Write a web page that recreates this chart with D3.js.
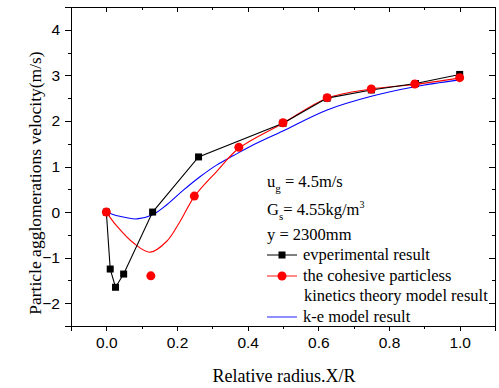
<!DOCTYPE html>
<meta charset="utf-8">
<style>
    body { margin: 0; background: #fff; }
    .axis path, .axis line { stroke: #000; stroke-width: 1px; shape-rendering: crispEdges; }
    .axis text { font: 15.5px "Liberation Sans", Arial, sans-serif; fill: #000; }
    .title { font-family: "Liberation Serif", "Times New Roman", serif; font-size: 18px; fill: #000; }
    .legend { font-family: "Liberation Serif", "Times New Roman", serif; font-size: 16.5px; fill: #000; }
</style>
<body>
<svg width="499" height="388"></svg>
<script src="https://d3js.org/d3.v7.min.js"></script>
<script>
// experimental result (black squares)
var expX = [0, 0.011, 0.026, 0.049, 0.131, 0.261, 0.5, 0.625, 0.75, 0.875, 1.0];
var expY = [0, -1.25, -1.65, -1.36, 0, 1.21, 1.95, 2.5, 2.68, 2.82, 3.02];
// cohesive particle kinetics theory model (red circles)
var cohX = [0, 0.126, 0.249, 0.375, 0.5, 0.625, 0.75, 0.873, 1.0];
var cohY = [0, -1.4, 0.35, 1.42, 1.96, 2.51, 2.7, 2.81, 2.95];
// red curve
var cohLineX = [0, 0.03, 0.077, 0.124, 0.171, 0.209, 0.249, 0.312, 0.375, 0.5, 0.625, 0.75, 0.873, 1.0];
var cohLineY = [0, -0.31, -0.68, -0.88, -0.64, -0.2, 0.34, 0.89, 1.4, 1.95, 2.5, 2.7, 2.8, 2.94];
// k-e model (blue curve)
var keX = [0, 0.03, 0.087, 0.131, 0.171, 0.218, 0.266, 0.312, 0.36, 0.407, 0.5, 0.625, 0.75, 0.873, 1.0];
var keY = [0, -0.08, -0.15, -0.06, 0.16, 0.48, 0.78, 1.03, 1.24, 1.44, 1.78, 2.24, 2.54, 2.75, 2.9];

var xTicks = [0, 0.2, 0.4, 0.6, 0.8, 1.0];
var yTicks = [-2, -1, 0, 1, 2, 3, 4];

var svg = d3.select("svg"),
    margin = {top: 7, right: 4, bottom: 62, left: 71},
    width = +svg.attr("width") - margin.left - margin.right,
    height = +svg.attr("height") - margin.top - margin.bottom;

var x = d3.scaleLinear().domain([-0.1, 1.1]).range([0, width]),
    y = d3.scaleLinear().domain([-2.5, 4.5]).range([height, 0]);

var g = svg.append("g")
    .attr("transform", "translate(" + margin.left + "," + margin.top + ")");

var xMinor = d3.range(-0.1, 1.11, 0.1).map(function (d) { return +d.toFixed(1); })
    .filter(function (d) { return xTicks.indexOf(d) < 0; });
var yMinor = d3.range(-2.5, 4.51, 0.5).filter(function (d) { return yTicks.indexOf(d) < 0; });

// bottom axis
g.append("g").attr("class", "axis")
    .attr("transform", "translate(0," + height + ")")
    .call(d3.axisBottom(x).tickValues(xTicks).tickSize(5).tickPadding(6).tickFormat(d3.format(".1f")));
g.append("g").attr("class", "axis")
    .attr("transform", "translate(0," + height + ")")
    .call(d3.axisBottom(x).tickValues(xMinor).tickSize(3).tickFormat(""))
    .select(".domain").remove();
// left axis
g.append("g").attr("class", "axis")
    .call(d3.axisLeft(y).tickValues(yTicks).tickSize(6).tickPadding(5).tickFormat(d3.format("d")));
g.append("g").attr("class", "axis")
    .call(d3.axisLeft(y).tickValues(yMinor).tickSize(3).tickFormat(""))
    .select(".domain").remove();
// top axis, ticks inward
g.append("g").attr("class", "axis")
    .call(d3.axisTop(x).tickValues(xTicks).tickSize(-5).tickFormat(""));
g.append("g").attr("class", "axis")
    .call(d3.axisTop(x).tickValues(xMinor).tickSize(-3).tickFormat(""))
    .select(".domain").remove();
// right axis, ticks inward
g.append("g").attr("class", "axis")
    .attr("transform", "translate(" + width + ",0)")
    .call(d3.axisRight(y).tickValues(yTicks).tickSize(-6).tickFormat(""));
g.append("g").attr("class", "axis")
    .attr("transform", "translate(" + width + ",0)")
    .call(d3.axisRight(y).tickValues(yMinor).tickSize(-3).tickFormat(""))
    .select(".domain").remove();

// axis titles
svg.append("text").attr("class", "title")
    .attr("x", 284).attr("y", 382)
    .attr("text-anchor", "middle")
    .text("Relative radius.X/R");
svg.append("text").attr("class", "title")
    .attr("transform", "translate(41,183) rotate(-90)")
    .attr("text-anchor", "middle")
    .style("font-size", "17.5px")
    .text("Particle agglomerations velocity(m/s)");

function zip(xs, ys) { return xs.map(function (d, i) { return [d, ys[i]]; }); }

var straight = d3.line().x(function (d) { return x(d[0]); }).y(function (d) { return y(d[1]); });
var smooth = d3.line().curve(d3.curveCatmullRom.alpha(0.5))
    .x(function (d) { return x(d[0]); }).y(function (d) { return y(d[1]); });

// blue k-e curve
g.append("path").datum(zip(keX, keY))
    .attr("d", smooth).attr("fill", "none").attr("stroke", "#0000ff").attr("stroke-width", 1.1);
// red model curve
g.append("path").datum(zip(cohLineX, cohLineY))
    .attr("d", smooth).attr("fill", "none").attr("stroke", "#ff0000").attr("stroke-width", 1.1);
// experimental line + squares
var expData = zip(expX, expY);
g.append("path").datum(expData)
    .attr("d", straight).attr("fill", "none").attr("stroke", "#000").attr("stroke-width", 1.1);
g.selectAll(".sq").data(expData).enter().append("rect")
    .attr("x", function (d) { return x(d[0]) - 3.5; })
    .attr("y", function (d) { return y(d[1]) - 3.5; })
    .attr("width", 7).attr("height", 7).attr("fill", "#000");
// red circles
g.selectAll(".dot").data(zip(cohX, cohY)).enter().append("circle")
    .attr("cx", function (d) { return x(d[0]); })
    .attr("cy", function (d) { return y(d[1]); })
    .attr("r", 4.5).attr("fill", "#ff0000");

// annotation text
var ann = svg.append("g").attr("class", "legend");
var t1 = ann.append("text").attr("x", 267).attr("y", 187);
t1.append("tspan").text("u");
t1.append("tspan").attr("dy", 5).attr("font-size", 11).text("g");
t1.append("tspan").attr("dy", -5).text(" = 4.5m/s");
var t2 = ann.append("text").attr("x", 267).attr("y", 215);
t2.append("tspan").text("G");
t2.append("tspan").attr("dy", 5).attr("font-size", 11).text("s");
t2.append("tspan").attr("dy", -5).text("= 4.55kg/m");
t2.append("tspan").attr("dy", -7).attr("font-size", 10).text("3");
ann.append("text").attr("x", 267).attr("y", 240).text("y = 2300mm");

// legend
var legend = svg.append("g");
legend.append("line").attr("x1", 267).attr("x2", 297).attr("y1", 255).attr("y2", 255).attr("stroke", "#000");
legend.append("rect").attr("x", 278.5).attr("y", 251.5).attr("width", 7).attr("height", 7).attr("fill", "#000");
legend.append("line").attr("x1", 267).attr("x2", 297).attr("y1", 276).attr("y2", 276).attr("stroke", "#ff6060").attr("stroke-width", 1.5);
legend.append("circle").attr("cx", 282).attr("cy", 276).attr("r", 4.5).attr("fill", "#ff0000");
legend.append("line").attr("x1", 267).attr("x2", 297).attr("y1", 317).attr("y2", 317).attr("stroke", "#6a6aff").attr("stroke-width", 1.5);
var ltext = [["evperimental result", 303, 260], ["the cohesive particless", 303, 281],
             ["kinetics theory model result", 304, 301], ["k-e model result", 303, 322]];
legend.selectAll("text").data(ltext).enter().append("text").attr("class", "legend")
    .attr("x", function (d) { return d[1]; }).attr("y", function (d) { return d[2]; })
    .text(function (d) { return d[0]; });
</script>
</body>
